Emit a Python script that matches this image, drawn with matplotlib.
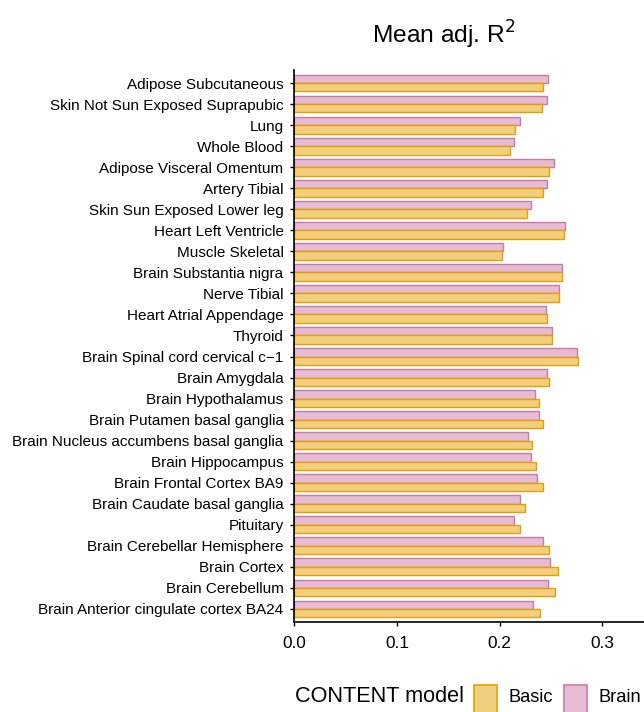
import matplotlib
matplotlib.use('Agg')
from matplotlib import pyplot as plt
from matplotlib import font_manager
from matplotlib.patches import Rectangle
import numpy as np

# tissues, listed top to bottom
tissues = [
    'Adipose Subcutaneous',
    'Skin Not Sun Exposed Suprapubic',
    'Lung',
    'Whole Blood',
    'Adipose Visceral Omentum',
    'Artery Tibial',
    'Skin Sun Exposed Lower leg',
    'Heart Left Ventricle',
    'Muscle Skeletal',
    'Brain Substantia nigra',
    'Nerve Tibial',
    'Heart Atrial Appendage',
    'Thyroid',
    'Brain Spinal cord cervical c\u22121',
    'Brain Amygdala',
    'Brain Hypothalamus',
    'Brain Putamen basal ganglia',
    'Brain Nucleus accumbens basal ganglia',
    'Brain Hippocampus',
    'Brain Frontal Cortex BA9',
    'Brain Caudate basal ganglia',
    'Pituitary',
    'Brain Cerebellar Hemisphere',
    'Brain Cortex',
    'Brain Cerebellum',
    'Brain Anterior cingulate cortex BA24',
]

basic_r2 = [0.2418, 0.2412, 0.2152, 0.2097, 0.2483, 0.2425, 0.2269, 0.2626,
            0.2022, 0.2604, 0.2575, 0.2457, 0.2513, 0.2763, 0.2483, 0.2383,
            0.2418, 0.2318, 0.2354, 0.2418, 0.2250, 0.2198, 0.2483, 0.2565,
            0.2542, 0.2396]
brain_r2 = [0.2473, 0.2461, 0.2194, 0.2142, 0.2526, 0.2461, 0.2302, 0.2636,
            0.2032, 0.2607, 0.2578, 0.2454, 0.2509, 0.2753, 0.2457, 0.2344,
            0.2380, 0.2276, 0.2305, 0.2363, 0.2194, 0.2142, 0.2425, 0.2493,
            0.2473, 0.2327]

x_ticks = [0.0, 0.1, 0.2, 0.3]
models = ['Basic', 'Brain']

basic_edge, basic_fill = '#E69F00', '#F2CF7F'
brain_edge, brain_fill = '#CC79A7', '#E5BCD3'

# prefer a narrow Helvetica-like face; shrink the sizes if it is missing
installed = {f.name for f in font_manager.fontManager.ttflist}
if 'Liberation Sans Narrow' in installed:
    family, scale = 'Liberation Sans Narrow', 1.0
else:
    family, scale = 'Liberation Sans', 0.82
plt.rcParams['font.family'] = [family, 'DejaVu Sans']

W, H = 644, 712
fig = plt.figure(figsize=(W / 100, H / 100), dpi=100)
ax = fig.add_axes([294.3 / W, 1 - 621.6 / H, 1 - 294.3 / W, (621.6 - 70.4) / H])

y = np.arange(len(tissues))
h = 0.4
brain_bars = ax.barh(y - h / 2, brain_r2, height=h, color=brain_fill,
                     edgecolor=brain_edge, linewidth=1.0)
basic_bars = ax.barh(y + h / 2, basic_r2, height=h, color=basic_fill,
                     edgecolor=basic_edge, linewidth=1.0)

ax.set_ylim(len(tissues) - 0.4, -0.6)
ax.set_xlim(0, 0.3405)
ax.set_yticks(y)
ax.set_yticklabels(tissues, fontsize=13.4 * scale)
ax.set_xticks(x_ticks)
ax.set_xticklabels(['%.1f' % v for v in x_ticks], fontsize=15.2 * scale)

for side in ['top', 'right']:
    ax.spines[side].set_visible(False)
for side in ['left', 'bottom']:
    ax.spines[side].set_linewidth(1.2)
ax.tick_params(axis='both', length=3.2, width=1.0, color='black')
ax.tick_params(axis='x', pad=7)
ax.tick_params(axis='y', pad=4.5)

fig.text(372 / W, 1 - 43.5 / H, 'Mean adj. R$^2$', fontsize=21.5 * scale,
         ha='left', va='baseline')

# legend along the bottom edge
fig.text(295 / W, 1 - 697 / H, 'CONTENT model', fontsize=19 * scale,
         ha='left', va='center')
key_style = [(basic_fill, basic_edge), (brain_fill, brain_edge)]
key_x = [474, 564]
for (fill, edge), kx, name in zip(key_style, key_x, models):
    fig.add_artist(Rectangle((kx / W, 1 - 713 / H), 23 / W, 28 / H,
                             transform=fig.transFigure, facecolor=fill,
                             edgecolor=edge, linewidth=1.2))
    fig.text((kx + 34) / W, 1 - 697 / H, name, fontsize=16 * scale,
             ha='left', va='center')

plt.savefig('out.png', dpi=100)
